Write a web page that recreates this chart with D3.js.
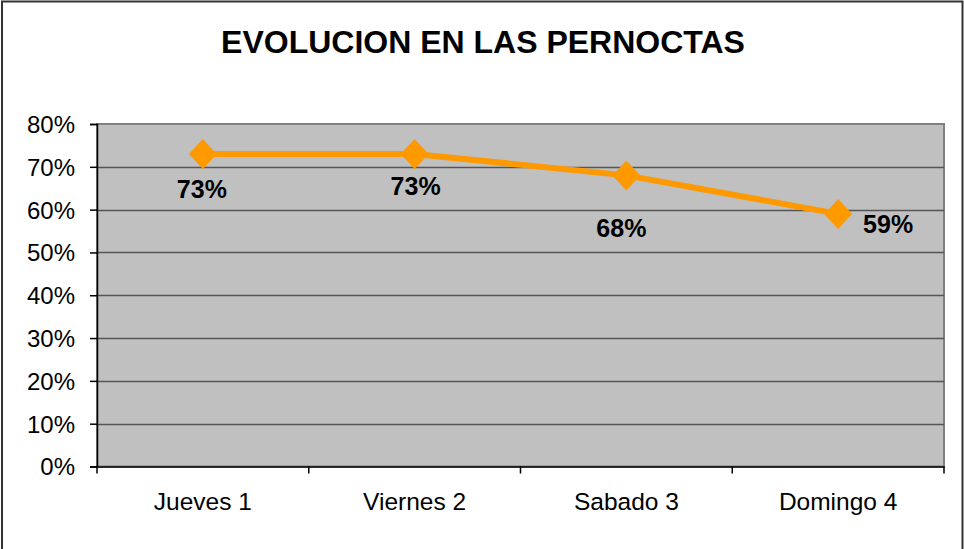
<!DOCTYPE html>
<html><head><meta charset="utf-8">
<script src="https://cdn.jsdelivr.net/npm/d3@7"></script>
<style>html,body{margin:0;padding:0;background:#fff;}svg{display:block;}</style>
</head><body>
<script>
const title = "EVOLUCION EN LAS PERNOCTAS";
const categories = ["Jueves 1", "Viernes 2", "Sabado 3", "Domingo 4"];
const values = [0.73, 0.73, 0.68, 0.59];
const valueLabels = ["73%", "73%", "68%", "59%"];
const yTicks = [0, 0.1, 0.2, 0.3, 0.4, 0.5, 0.6, 0.7, 0.8];

// label placement relative to each marker (layout, not data)
const labelPlacement = [[-1, 44], [1, 41], [-5, 62], [50, 19]];

const W = 964, H = 549;
const plot = {left: 97, right: 944, top: 124, bottom: 466.5};
const svg = d3.select("body").append("svg").attr("width", W).attr("height", H);
svg.append("rect").attr("width", W).attr("height", H).attr("fill", "#fff");
svg.append("rect").attr("x", 2).attr("y", 1.5).attr("width", 960.5).attr("height", 560)
  .attr("fill", "none").attr("stroke", "#333").attr("stroke-width", 2);

const x = d3.scaleBand().domain(categories).range([plot.left, plot.right]).padding(0);
const y = d3.scaleLinear().domain([0, 0.8]).range([plot.bottom, plot.top]);

svg.append("rect").attr("x", plot.left).attr("y", plot.top)
  .attr("width", plot.right - plot.left).attr("height", plot.bottom - plot.top)
  .attr("fill", "#c0c0c0").attr("stroke", "#808080").attr("stroke-width", 2);

svg.append("g").selectAll("line").data(yTicks.filter(t => t > 0 && t < 0.8)).join("line")
  .attr("x1", plot.left).attr("x2", plot.right)
  .attr("y1", d => Math.round(y(d)) + 0.5).attr("y2", d => Math.round(y(d)) + 0.5)
  .attr("stroke", "#555").attr("stroke-width", 1.5);

// Y axis
const yAxis = d3.axisLeft(y).tickValues(yTicks).tickFormat(d3.format(".0%")).tickSize(7).tickPadding(15);
const gy = svg.append("g").attr("transform", `translate(${plot.left},0)`).call(yAxis);
gy.select(".domain").attr("stroke", "#000").attr("stroke-width", 1.5);
gy.selectAll(".tick line").attr("stroke", "#000").attr("stroke-width", 1.5);
gy.selectAll("text").attr("font-family", "Liberation Sans, Arial, sans-serif")
  .attr("font-size", 24).attr("fill", "#000").attr("dy", "0.35em");

// X axis
const xAxis = d3.axisBottom(x).tickSize(0).tickPadding(26);
const gx = svg.append("g").attr("transform", `translate(0,${plot.bottom})`).call(xAxis);
gx.select(".domain").attr("stroke", "#000").attr("stroke-width", 1.5);
gx.selectAll("text").attr("font-family", "Liberation Sans, Arial, sans-serif")
  .attr("font-size", 24.5).attr("fill", "#000");
const bounds = categories.map(c => x(c)).concat([x.range()[1]]);
gx.selectAll(".bt").data(bounds).join("line").attr("class", "bt")
  .attr("x1", d => d).attr("x2", d => d).attr("y1", 0).attr("y2", 7)
  .attr("stroke", "#000").attr("stroke-width", 1.5);

// Title
svg.append("text").attr("x", 483).attr("y", 53).attr("text-anchor", "middle")
  .attr("font-family", "Liberation Sans, Arial, sans-serif").attr("font-weight", "bold")
  .attr("font-size", 32).attr("fill", "#000").text(title);

const pts = categories.map((c, i) => ({c, v: values[i], i}));
const cx = d => x(d.c) + x.bandwidth() / 2;

svg.append("path").datum(pts)
  .attr("d", d3.line().x(cx).y(d => y(d.v)))
  .attr("fill", "none").attr("stroke", "#ff9900").attr("stroke-width", 6);

svg.append("g").selectAll("path").data(pts).join("path")
  .attr("transform", d => `translate(${cx(d)},${y(d.v)})`)
  .attr("d", "M0,-15L14,0L0,15L-14,0Z").attr("fill", "#ff9900");

svg.append("g").selectAll("text").data(pts).join("text")
  .attr("x", d => cx(d) + labelPlacement[d.i][0])
  .attr("y", d => y(d.v) + labelPlacement[d.i][1])
  .attr("text-anchor", "middle")
  .attr("font-family", "Liberation Sans, Arial, sans-serif").attr("font-weight", "bold")
  .attr("font-size", 25).attr("fill", "#000")
  .text((d, i) => valueLabels[i]);
</script>
</body></html>
